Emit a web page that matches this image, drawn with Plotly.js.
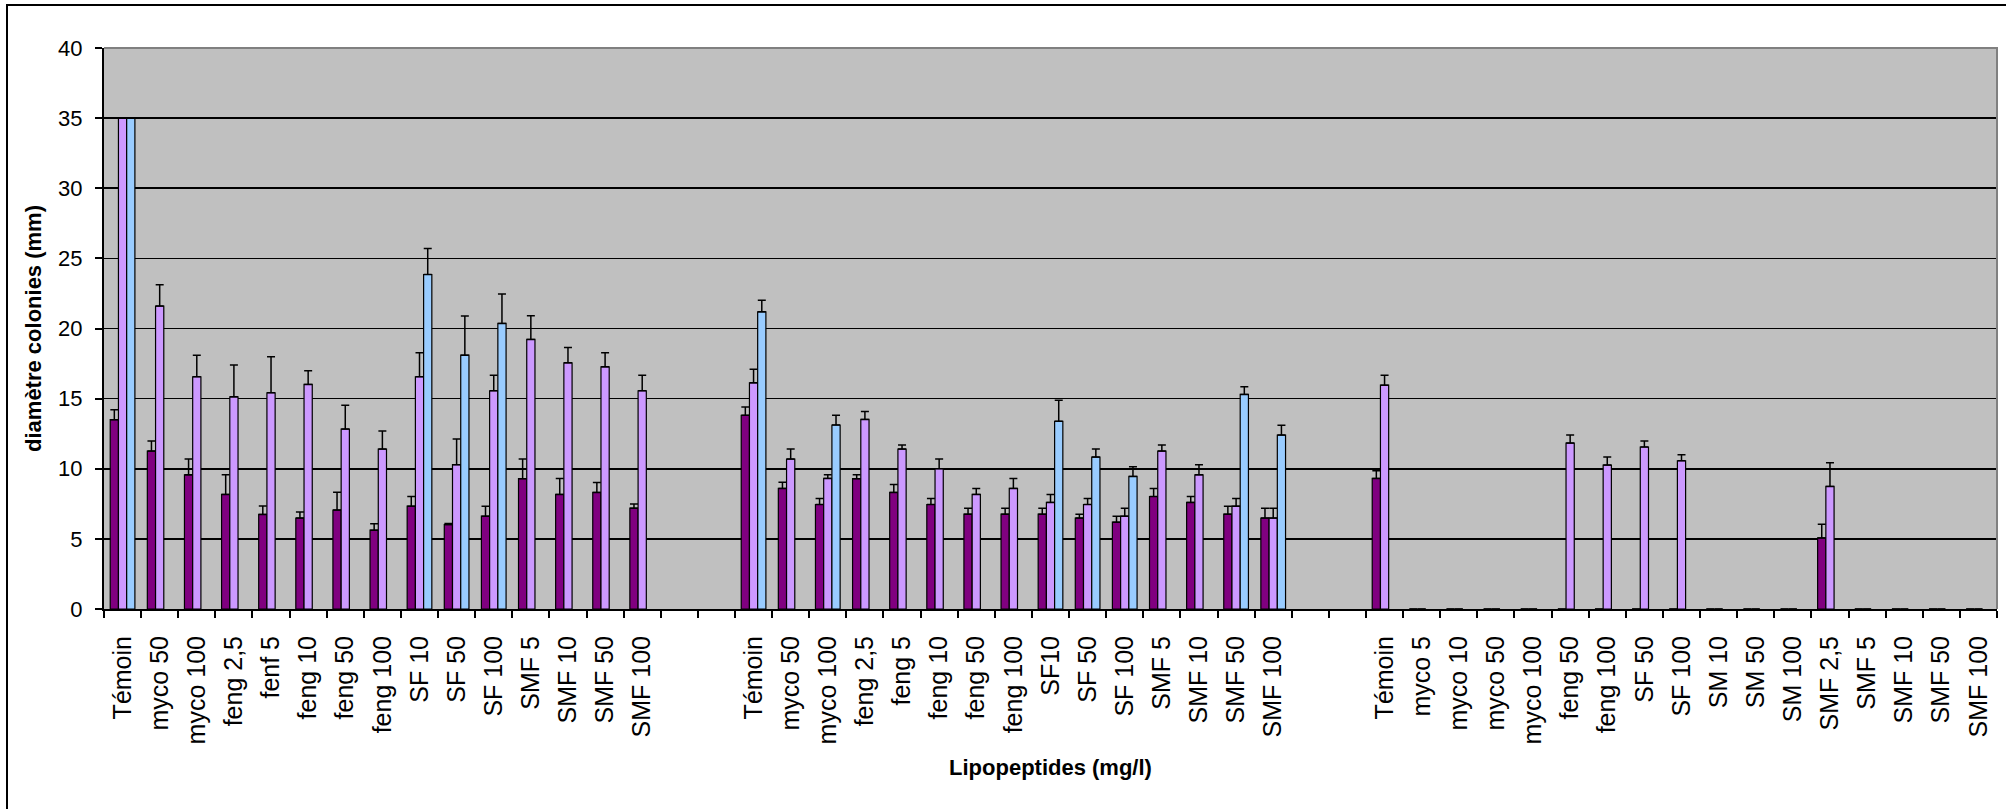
<!DOCTYPE html>
<html>
<head>
<meta charset="utf-8">
<script src="https://cdn.plot.ly/plotly-3.0.1.min.js"></script>
<style>
  html, body { margin: 0; padding: 0; background: #ffffff; overflow: hidden; }
  #wrap { position: relative; width: 2006px; height: 809px; overflow: hidden; }
  #chart { position: absolute; left: 0; top: 0; width: 2006px; height: 809px; }
  #frame { position: absolute; left: 6px; top: 4px; width: 2040px; height: 840px;
           border: 2px solid #000; pointer-events: none; box-sizing: border-box; }
</style>
</head>
<body>
<div id="wrap">
  <div id="chart"></div>
  <div id="frame"></div>
</div>
<script>
// ---- Categories (three experiment blocks) ----
const catsA = ["Témoin","myco 50","myco 100","feng 2,5","fenf 5","feng 10","feng 50","feng 100","SF 10","SF 50","SF 100","SMF 5","SMF 10","SMF 50","SMF 100"];
const catsB = ["Témoin","myco 50","myco 100","feng 2,5","feng 5","feng 10","feng 50","feng 100","SF10","SF 50","SF 100","SMF 5","SMF 10","SMF 50","SMF 100"];
const catsC = ["Témoin","myco 5","myco 10","myco 50","myco 100","feng 50","feng 100","SF 50","SF 100","SM 10","SM 50","SM 100","SMF 2,5","SMF 5","SMF 10","SMF 50","SMF 100"];

// ---- Series 1 (dark purple) ----
const s1A = [13.5, 11.26, 9.57, 8.17, 6.74, 6.48, 7.05, 5.62, 7.33, 6.02, 6.62, 9.29, 8.17, 8.31, 7.19];
const e1A = [0.7, 0.72, 1.13, 1.4, 0.6, 0.43, 1.28, 0.45, 0.7, 0.07, 0.7, 1.41, 1.14, 0.71, 0.29];
const s1B = [13.81, 8.6, 7.45, 9.29, 8.31, 7.45, 6.76, 6.76, 6.76, 6.48, 6.19, 8.02, 7.6, 6.76, 6.48];
const e1B = [0.6, 0.43, 0.43, 0.28, 0.57, 0.43, 0.43, 0.43, 0.43, 0.28, 0.43, 0.57, 0.43, 0.57, 0.71];
const s1C = [9.31, 0, 0, 0, 0, 0, 0, 0, 0, 0, 0, 0, 5.07, 0, 0, 0, 0];
const e1C = [0.55, 0, 0, 0, 0, 0, 0, 0, 0, 0, 0, 0, 0.98, 0, 0, 0, 0];

// ---- Series 2 (light purple) ----
const s2A = [35, 21.6, 16.56, 15.13, 15.42, 16.01, 12.83, 11.4, 16.56, 10.29, 15.56, 19.22, 17.55, 17.27, 15.56];
const e2A = [0, 1.52, 1.54, 2.26, 2.56, 0.97, 1.69, 1.29, 1.71, 1.83, 1.11, 1.69, 1.09, 1.0, 1.11];
const s2B = [16.13, 10.69, 9.31, 13.52, 11.4, 10.0, 8.17, 8.6, 7.6, 7.45, 6.62, 11.26, 9.57, 7.33, 6.48];
const e2B = [0.97, 0.71, 0.26, 0.57, 0.29, 0.69, 0.43, 0.71, 0.57, 0.43, 0.57, 0.43, 0.71, 0.55, 0.71];
const s2C = [15.96, 0, 0, 0, 0, 11.83, 10.26, 11.55, 10.57, 0, 0, 0, 8.74, 0, 0, 0, 0];
const e2C = [0.71, 0, 0, 0, 0, 0.57, 0.57, 0.43, 0.43, 0, 0, 0, 1.69, 0, 0, 0, 0];

// ---- Series 3 (light blue) ----
const s3A = [35, null, null, null, null, null, null, null, 23.85, 18.1, 20.36, null, null, null, null];
const e3A = [0, 0, 0, 0, 0, 0, 0, 0, 1.85, 2.8, 2.1, 0, 0, 0, 0];
const s3B = [21.19, null, 13.12, null, null, null, null, null, 13.38, 10.83, 9.45, null, null, 15.3, 12.4];
const e3B = [0.83, 0, 0.69, 0, 0, 0, 0, 0, 1.5, 0.57, 0.69, 0, 0, 0.55, 0.71];
const s3C = [null, null, null, null, null, null, null, null, null, null, null, null, null, null, null, null, null];
const e3C = [0, 0, 0, 0, 0, 0, 0, 0, 0, 0, 0, 0, 0, 0, 0, 0, 0];

const yTicks = [0, 5, 10, 15, 20, 25, 30, 35, 40];

// ---- assemble with two empty category slots between blocks ----
const GAP = 2;
function assemble(a, b, c) {
  const g = Array(GAP).fill(null);
  return [...a, ...g, ...b, ...g, ...c];
}
const labels = assemble(catsA, catsB, catsC);
const xs = labels.map((_, i) => i);
const tickvals = xs.filter(i => labels[i] !== null);
const ticktext = tickvals.map(i => labels[i]);
const boundaries = [];
for (let i = 0; i <= labels.length; i++) boundaries.push(i - 0.5);

const zeros = labels.map(() => 0);

function barTrace(vals, errs, color) {
  return {
    type: 'bar',
    x: xs,
    y: vals,
    marker: { color: color, line: { color: '#000000', width: 1.2 } },
    error_y: { type: 'data', symmetric: false, array: errs, arrayminus: zeros,
               color: '#000000', thickness: 1.5, width: 4 },
    hoverinfo: 'y',
    showlegend: false
  };
}

const data = [
  barTrace(assemble(s1A, s1B, s1C), assemble(e1A, e1B, e1C), '#800080'),
  barTrace(assemble(s2A, s2B, s2C), assemble(e2A, e2B, e2C), '#CC99FF'),
  barTrace(assemble(s3A, s3B, s3C), assemble(e3A, e3B, e3C), '#99CCFF')
];

const FONT = '"Liberation Sans", Arial, sans-serif';

const layout = {
  width: 2006,
  height: 809,
  margin: { l: 104, r: 9, t: 48, b: 200, pad: 0 },
  paper_bgcolor: '#ffffff',
  plot_bgcolor: '#C0C0C0',
  barmode: 'group',
  bargap: 0.335,
  bargroupgap: 0,
  showlegend: false,
  font: { family: FONT, color: '#000000' },
  xaxis: {
    range: [-0.5, labels.length - 0.5],
    tickmode: 'array',
    tickvals: tickvals,
    ticktext: ticktext,
    tickangle: -90,
    ticks: '',
    ticklabelstandoff: 15,
    tickfont: { family: FONT, size: 25, color: '#000000' },
    showgrid: false,
    zeroline: false,
    showline: true,
    linecolor: '#000000',
    linewidth: 2,
    minor: { tickmode: 'array', tickvals: boundaries, ticks: 'outside', ticklen: 7,
             tickwidth: 2, tickcolor: '#000000', showgrid: false },
    title: { text: 'Lipopeptides (mg/l)', standoff: 16,
             font: { family: FONT, size: 22, color: '#000000', weight: 'bold' } }
  },
  yaxis: {
    range: [0, 40],
    tickmode: 'array',
    tickvals: yTicks,
    ticks: 'outside',
    ticklen: 7,
    tickwidth: 2,
    tickcolor: '#000000',
    ticklabelstandoff: 8,
    tickfont: { family: FONT, size: 22, color: '#000000' },
    showgrid: true,
    gridcolor: '#000000',
    gridwidth: 1.6,
    zeroline: false,
    showline: true,
    linecolor: '#000000',
    linewidth: 2,
    title: { text: 'diamètre colonies (mm)', standoff: 10,
             font: { family: FONT, size: 22, color: '#000000', weight: 'bold' } }
  },
  shapes: [
    { type: 'path', xref: 'paper', yref: 'paper', path: 'M0,1 L1,1 L1,0',
      line: { color: '#808080', width: 2 }, layer: 'above' }
  ]
};

Plotly.newPlot('chart', data, layout, { staticPlot: true, displayModeBar: false });
</script>
</body>
</html>
